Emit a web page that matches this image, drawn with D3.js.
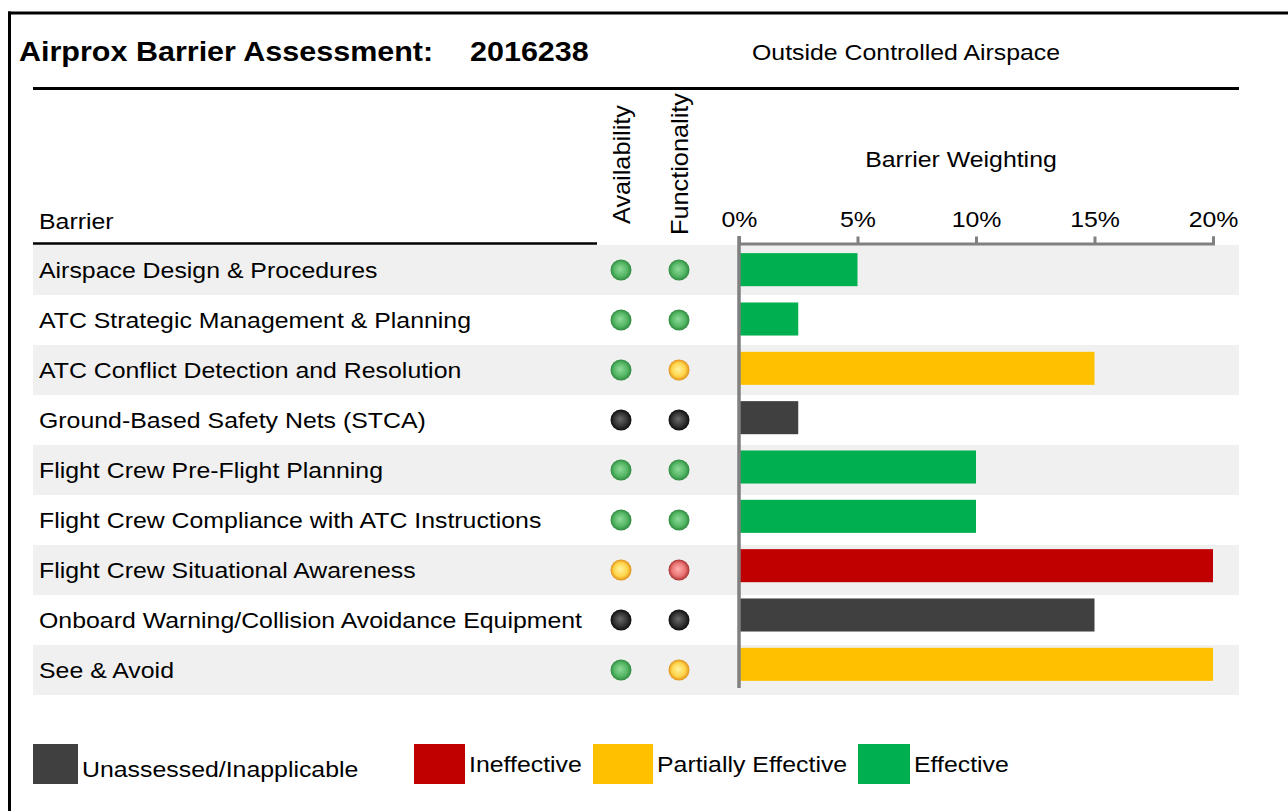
<!DOCTYPE html>
<html>
<head>
<meta charset="utf-8">
<script src="https://cdn.jsdelivr.net/npm/d3@7"></script>
<style>
  html, body { margin: 0; padding: 0; background: #fff; }
  svg { display: block; }
</style>
</head>
<body>
<div id="chart"></div>
<script>
// ---- data ----
const barriers = [
    'Airspace Design & Procedures',
    'ATC Strategic Management & Planning',
    'ATC Conflict Detection and Resolution',
    'Ground-Based Safety Nets (STCA)',
    'Flight Crew Pre-Flight Planning',
    'Flight Crew Compliance with ATC Instructions',
    'Flight Crew Situational Awareness',
    'Onboard Warning/Collision Avoidance Equipment',
    'See & Avoid',
];
const availability = ['green', 'green', 'green', 'black', 'green', 'green', 'yellow', 'black', 'green'];
const functionality = ['green', 'green', 'yellow', 'black', 'green', 'green', 'red', 'black', 'yellow'];
const effectiveness = ['effective', 'effective', 'partial', 'unassessed', 'effective', 'effective', 'ineffective', 'unassessed', 'partial'];
const weighting = [5, 2.5, 15, 2.5, 10, 10, 20, 15, 20];
const weightTicks = [0, 5, 10, 15, 20];
const legendKeys = ['unassessed', 'ineffective', 'partial', 'effective'];
const legendLabels = ['Unassessed/Inapplicable', 'Ineffective', 'Partially Effective', 'Effective'];

// ---- styles ----
const barFill = {
    unassessed: '#404040',
    ineffective: '#c00000',
    partial: '#ffc000',
    effective: '#00b050',
};
const dotStops = {
    green: ['#8fd99a', '#55b765', '#2f8a3f'],
    yellow: ['#fff2a0', '#ffd54a', '#e0901a'],
    red: ['#ffb0b0', '#ea7474', '#a83232'],
    black: ['#6a6a6a', '#333333', '#0d0d0d'],
};
const FONT = '"Liberation Sans", Arial, sans-serif';
const SX = 1.13; // the original glyphs are a bit wider than Arial

const width = 1288;
const height = 811;

const svg = d3.select('#chart').append('svg')
    .attr('width', width)
    .attr('height', height);

const addText = (parent, o) => parent.append('text')
    .attr('transform', `translate(${o.x}, ${o.y}) rotate(${o.rotate || 0}) scale(${o.sx || SX}, 1)`)
    .attr('text-anchor', o.anchor || 'start')
    .attr('font-family', FONT)
    .attr('font-size', o.size || 22)
    .attr('font-weight', o.weight || 'normal')
    .attr('fill', '#000')
    .text(o.text);

// gradients for the status dots
const defs = svg.append('defs');
Object.keys(dotStops).forEach((k) => {
    const g = defs.append('radialGradient').attr('id', `dot-${k}`)
        .attr('cx', '50%').attr('cy', '50%').attr('r', '50%')
        .attr('fx', '45%').attr('fy', '45%');
    g.append('stop').attr('offset', '0%').attr('stop-color', dotStops[k][0]);
    g.append('stop').attr('offset', '65%').attr('stop-color', dotStops[k][1]);
    g.append('stop').attr('offset', '100%').attr('stop-color', dotStops[k][2]);
});

// ---- frame ----
svg.append('line').attr('x1', 8).attr('x2', width).attr('y1', 13).attr('y2', 13)
    .attr('stroke', '#000').attr('stroke-width', 3);
svg.append('line').attr('x1', 9.5).attr('x2', 9.5).attr('y1', 11.5).attr('y2', height)
    .attr('stroke', '#000').attr('stroke-width', 3);

// ---- header ----
addText(svg, {x: 19, y: 61, text: 'Airprox Barrier Assessment:', size: 28, weight: 'bold', sx: 1.09});
addText(svg, {x: 470, y: 61, text: '2016238', size: 28, weight: 'bold', sx: 1.09});
addText(svg, {x: 752, y: 60, text: 'Outside Controlled Airspace'});
svg.append('line').attr('x1', 33).attr('x2', 1239).attr('y1', 88.5).attr('y2', 88.5)
    .attr('stroke', '#000').attr('stroke-width', 3);

// ---- table layout ----
const rowY = d3.scaleBand().domain(d3.range(barriers.length)).range([245, 695]);
const barY = d3.scaleBand().domain(d3.range(barriers.length)).range([245, 689])
    .paddingInner(0.33).paddingOuter(0.165);
const x = d3.scaleLinear().domain([0, 20]).range([739, 1213]);
const colX = {avail: 621, func: 679};

// row stripes
svg.append('g').attr('class', 'stripes')
    .selectAll('rect')
    .data(d3.range(barriers.length).filter(i => i % 2 === 0))
    .join('rect')
    .attr('x', 33)
    .attr('y', i => rowY(i))
    .attr('width', 1239 - 33)
    .attr('height', rowY.bandwidth())
    .attr('fill', '#f0f0f0');

// column headers
addText(svg, {x: 39, y: 229, text: 'Barrier'});
svg.append('line').attr('x1', 33).attr('x2', 597).attr('y1', 243.5).attr('y2', 243.5)
    .attr('stroke', '#000').attr('stroke-width', 2.5);
addText(svg, {x: colX.avail + 9, y: 224, text: 'Availability', rotate: -90, size: 23, sx: 1.1});
addText(svg, {x: colX.func + 9, y: 235, text: 'Functionality', rotate: -90, size: 23, sx: 1.1});
addText(svg, {x: 961, y: 167, text: 'Barrier Weighting', anchor: 'middle'});

// row labels
const labels = svg.append('g').attr('class', 'labels');
barriers.forEach((b, i) => {
    addText(labels, {x: 39, y: rowY(i) + rowY.bandwidth() / 2 + 8, text: b});
});

// status dots
const dots = svg.append('g').attr('class', 'dots');
const addDots = (values, cx) => dots.append('g')
    .selectAll('circle')
    .data(values)
    .join('circle')
    .attr('cx', cx)
    .attr('cy', (d, i) => rowY(i) + rowY.bandwidth() / 2)
    .attr('r', 10.5)
    .attr('fill', d => `url(#dot-${d})`);
addDots(availability, colX.avail);
addDots(functionality, colX.func);

// bars
svg.append('g').attr('class', 'bars')
    .selectAll('rect')
    .data(weighting)
    .join('rect')
    .attr('x', x(0))
    .attr('y', (d, i) => barY(i))
    .attr('width', d => x(d) - x(0))
    .attr('height', barY.bandwidth())
    .attr('fill', (d, i) => barFill[effectiveness[i]]);

// axis
const axis = svg.append('g').attr('class', 'axis')
    .attr('transform', 'translate(0, 243.5)')
    .call(d3.axisTop(x).tickValues(weightTicks).tickSize(7).tickSizeOuter(7).tickFormat(d => `${d}%`));
axis.select('.domain').attr('stroke', '#808080').attr('stroke-width', 3);
axis.selectAll('.tick line').attr('stroke', '#808080').attr('stroke-width', 3);
axis.selectAll('.tick text')
    .attr('font-family', FONT)
    .attr('font-size', 22)
    .attr('fill', '#000')
    .attr('x', 0)
    .attr('y', -17)
    .attr('dy', 0)
    .attr('transform', `scale(${SX}, 1)`);
svg.append('line')
    .attr('x1', x(0)).attr('x2', x(0))
    .attr('y1', 236).attr('y2', 688)
    .attr('stroke', '#808080').attr('stroke-width', 3.5);

// ---- legend ----
const legendX = [33, 414, 593, 858];
const legendW = [45, 51, 60, 52];
const legendTextX = [82, 469, 657, 914];
const legendTextY = [777, 772, 772, 772];
const legend = svg.append('g').attr('class', 'legend');
legendKeys.forEach((k, i) => {
    legend.append('rect')
        .attr('x', legendX[i]).attr('y', 744)
        .attr('width', legendW[i]).attr('height', 40)
        .attr('fill', barFill[k]);
    addText(legend, {x: legendTextX[i], y: legendTextY[i], text: legendLabels[i]});
});
</script>
</body>
</html>
